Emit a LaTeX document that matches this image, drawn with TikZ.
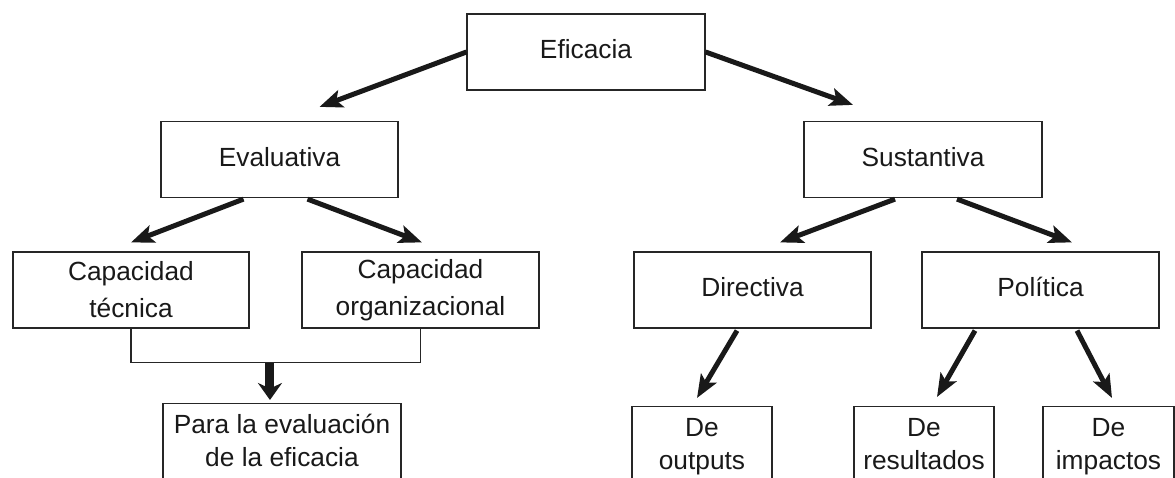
\documentclass[tikz,border=0pt]{standalone}
\usepackage{fontspec}
\setmainfont{Liberation Sans}
\usetikzlibrary{calc,positioning,arrows.meta}

\begin{document}
\begin{tikzpicture}[x=1pt, y=-1pt,
  box/.style={draw=black!85, line width=1.2pt, minimum width=237pt, minimum height=76pt, align=center, inner sep=0pt, font=\fontsize{26.3}{37}\selectfont, text=black!90},
  one/.style={text height=19pt, text depth=6pt},
  openbox/.style={draw=black!85, line width=1.2pt, anchor=north, align=center, inner xsep=0pt, inner ysep=9.5pt, text height=53pt, text depth=40pt, font=\fontsize{26.3}{33}\selectfont, text=black!90},
  arr/.style={black!90, line width=5pt, -{Stealth[length=23pt,width=18pt,inset=5pt]}},
  link/.style={draw=black!85, line width=1.2pt}]
\useasboundingbox (0,0) rectangle (1175,477);
\clip (0,0) rectangle (1175,477);

% upper levels
\node[box, one, minimum width=238pt] (efic) at (586,52) {Eficacia};
\node[box, one] (eval) at (279.5,159.5) {Evaluativa};
\node[box, one, minimum width=238pt] (sust) at (923,159.5) {Sustantiva};
\node[box, minimum width=236pt] (capt) at (131,290) {Capacidad\\técnica};
\node[box] (capo) at (420.5,290) {Capacidad\\organizacional};
\node[box, one] (dir) at (752.5,290) {Directiva};
\node[box, one] (pol) at (1040.5,290) {Política};

% open boxes at the bottom
\node[openbox, minimum width=238pt] (para) at (282,403) {Para la evaluación\\de la eficacia};
\node[openbox, minimum width=140pt] (outp) at (702,406) {De\\outputs};
\node[openbox, minimum width=140pt] (resu) at (924,406) {De\\resultados};
\node[openbox, minimum width=131pt] (impa) at (1108.5,406) {De\\impactos};

% arrows
\draw[arr] (efic.west) -- ($(eval.north)+(40,-14)$);
\draw[arr] (efic.east) -- ($(sust.north)+(-70,-16)$);
\draw[arr] ($(eval.south)+(-36,1)$) -- ($(capt.north)+(0,-9)$);
\draw[arr] ($(eval.south)+(28,1)$) -- ($(capo.north)+(1.5,-9)$);
\draw[arr] ($(sust.south)+(-28,1)$) -- ($(dir.north)+(27.5,-9)$);
\draw[arr] ($(sust.south)+(34,1)$) -- ($(pol.north)+(31.5,-9)$);
\draw[arr] ($(dir.south)+(-15.5,2)$) -- ($(outp.north)+(-5,-8)$);
\draw[arr] ($(pol.south)+(-65.5,2)$) -- ($(resu.north)+(13,-9)$);
\draw[arr] ($(pol.south)+(36.5,2)$) -- ($(impa.north)+(3.5,-8)$);

% bracket
\draw[link] (capt.south) -- ++(0,34) -| (capo.south);
\coordinate (join) at ($(capt.south)!0.48!(capo.south)+(0,34)$);
\draw[black!90, line width=9pt, -{Stealth[length=17pt,width=24pt]}, shorten >=3pt] (join) -- (join |- para.north);
\end{tikzpicture}
\end{document}
